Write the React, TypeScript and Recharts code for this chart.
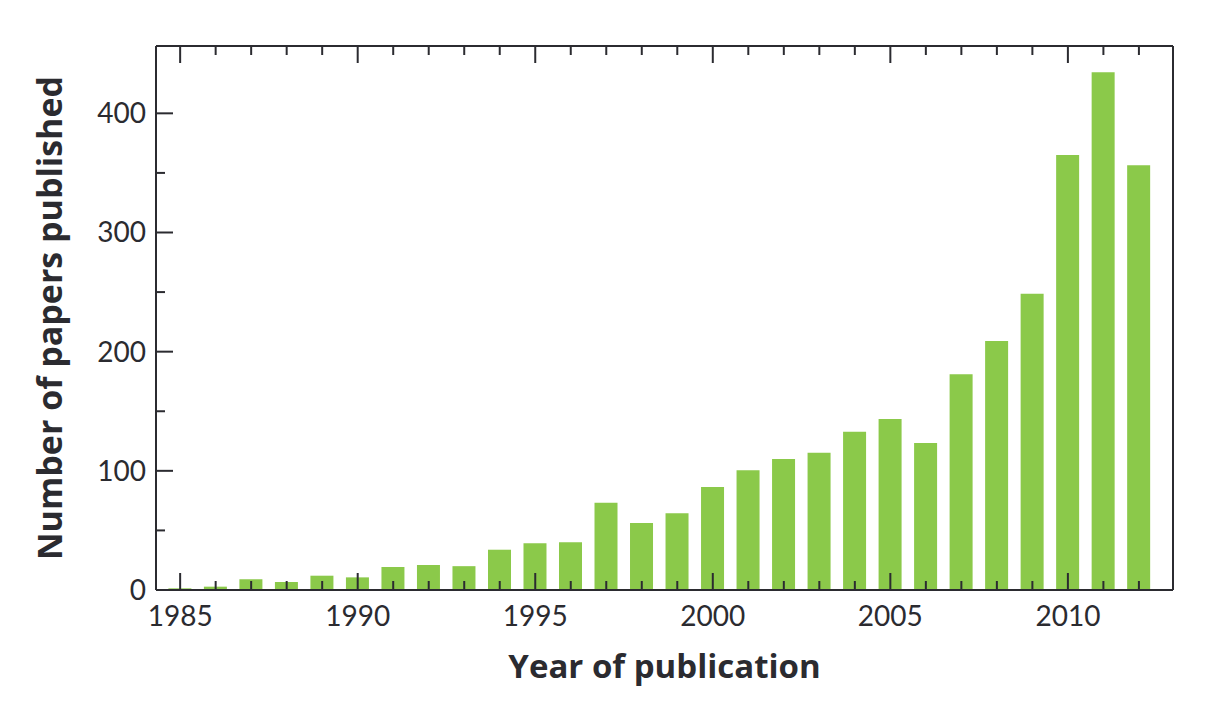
import React from 'react';
import { Bar, BarChart, XAxis, YAxis } from 'recharts';

// Papers per year
const years = [
  1985, 1986, 1987, 1988, 1989, 1990, 1991, 1992, 1993, 1994, 1995, 1996, 1997, 1998,
  1999, 2000, 2001, 2002, 2003, 2004, 2005, 2006, 2007, 2008, 2009, 2010, 2011, 2012,
];
const papers = [
  1.4, 2.8, 9, 6.7, 12, 10.6, 19.3, 21, 20, 33.8, 39.2, 40, 73.3, 56.2,
  64.4, 86.4, 100.4, 109.9, 115.2, 132.8, 143.5, 123.4, 181, 208.9, 248.6, 365, 434.4, 356.4,
];
const yTicks = [0, 50, 100, 150, 200, 250, 300, 350, 400];
const xDomain = [1984.32, 2012.96];
const yDomain = [0, 456.5];

const data = years.map((year, i) => ({ year, papers: papers[i] }));

const INK = '#2b2b30';
const FONT = 'Lato, "Open Sans", sans-serif';
const TITLE_FONT = '"Open Sans", Lato, sans-serif';
const MAJOR = 17;
const MINOR = 9;

const BottomTick = ({ x, y, payload }: any) => {
  const major = payload.value % 5 === 0;
  return (
    <g>
      <line x1={x} y1={y} x2={x} y2={y - (major ? MAJOR : MINOR)} stroke={INK} strokeWidth={2} />
      {major && (
        <text x={x} y={y + 36} textAnchor="middle" fill={INK} fontSize={28} fontFamily={FONT}>
          {payload.value}
        </text>
      )}
    </g>
  );
};

const TopTick = ({ x, y, payload }: any) => {
  const major = payload.value % 5 === 0;
  return <line x1={x} y1={y} x2={x} y2={y + (major ? MAJOR : MINOR)} stroke={INK} strokeWidth={2} />;
};

const LeftTick = ({ x, y, payload }: any) => {
  const major = payload.value % 100 === 0;
  return (
    <g>
      <line x1={x} y1={y} x2={x + (major ? MAJOR : MINOR)} y2={y} stroke={INK} strokeWidth={2} />
      {major && (
        <text x={x - 10} y={y + 10} textAnchor="end" fill={INK} fontSize={28} fontFamily={FONT}>
          {payload.value}
        </text>
      )}
    </g>
  );
};

const RightTick = ({ x, y, payload }: any) => {
  const major = payload.value % 100 === 0;
  return <line x1={x} y1={y} x2={x - (major ? MAJOR : MINOR)} y2={y} stroke={INK} strokeWidth={2} />;
};

const XTitle = ({ viewBox }: any) => (
  <text
    x={viewBox.x + viewBox.width / 2}
    y={viewBox.y + 88}
    textAnchor="middle"
    fill={INK}
    fontSize={33}
    fontWeight="bold"
    fontFamily={TITLE_FONT}
  >
    Year of publication
  </text>
);

const YTitle = ({ viewBox }: any) => {
  const cx = 62;
  const cy = viewBox.y + viewBox.height / 2;
  return (
    <text
      x={cx}
      y={cy}
      transform={`rotate(-90, ${cx}, ${cy})`}
      textAnchor="middle"
      fill={INK}
      fontSize={34}
      fontWeight="bold"
      fontFamily={TITLE_FONT}
    >
      Number of papers published
    </text>
  );
};

export default function App() {
  return (
    <div style={{ position: 'absolute', left: 0, top: 0, background: '#fff' }}>
      <BarChart width={1230} height={716} data={data} margin={{ top: 45, right: 56, left: 0, bottom: 0 }}>
        <Bar
          xAxisId="bottom"
          yAxisId="left"
          dataKey="papers"
          fill="#8BC94A"
          barSize={23}
          isAnimationActive={false}
        />
        <XAxis
          xAxisId="bottom"
          dataKey="year"
          type="number"
          domain={xDomain}
          ticks={years}
          interval={0}
          height={126}
          tickSize={0}
          tickMargin={0}
          tickLine={false}
          axisLine={{ stroke: INK, strokeWidth: 2 }}
          tick={<BottomTick />}
          label={<XTitle />}
        />
        <XAxis
          xAxisId="top"
          orientation="top"
          dataKey="year"
          type="number"
          domain={xDomain}
          ticks={years}
          interval={0}
          height={1}
          tickSize={0}
          tickMargin={0}
          tickLine={false}
          axisLine={{ stroke: INK, strokeWidth: 2 }}
          tick={<TopTick />}
        />
        <YAxis
          yAxisId="left"
          type="number"
          domain={yDomain}
          ticks={yTicks}
          interval={0}
          width={156}
          tickSize={0}
          tickMargin={0}
          tickLine={false}
          axisLine={{ stroke: INK, strokeWidth: 2 }}
          tick={<LeftTick />}
          label={<YTitle />}
        />
        <YAxis
          yAxisId="right"
          orientation="right"
          type="number"
          domain={yDomain}
          ticks={yTicks}
          interval={0}
          width={1}
          tickSize={0}
          tickMargin={0}
          tickLine={false}
          axisLine={{ stroke: INK, strokeWidth: 2 }}
          tick={<RightTick />}
        />
      </BarChart>
    </div>
  );
}
